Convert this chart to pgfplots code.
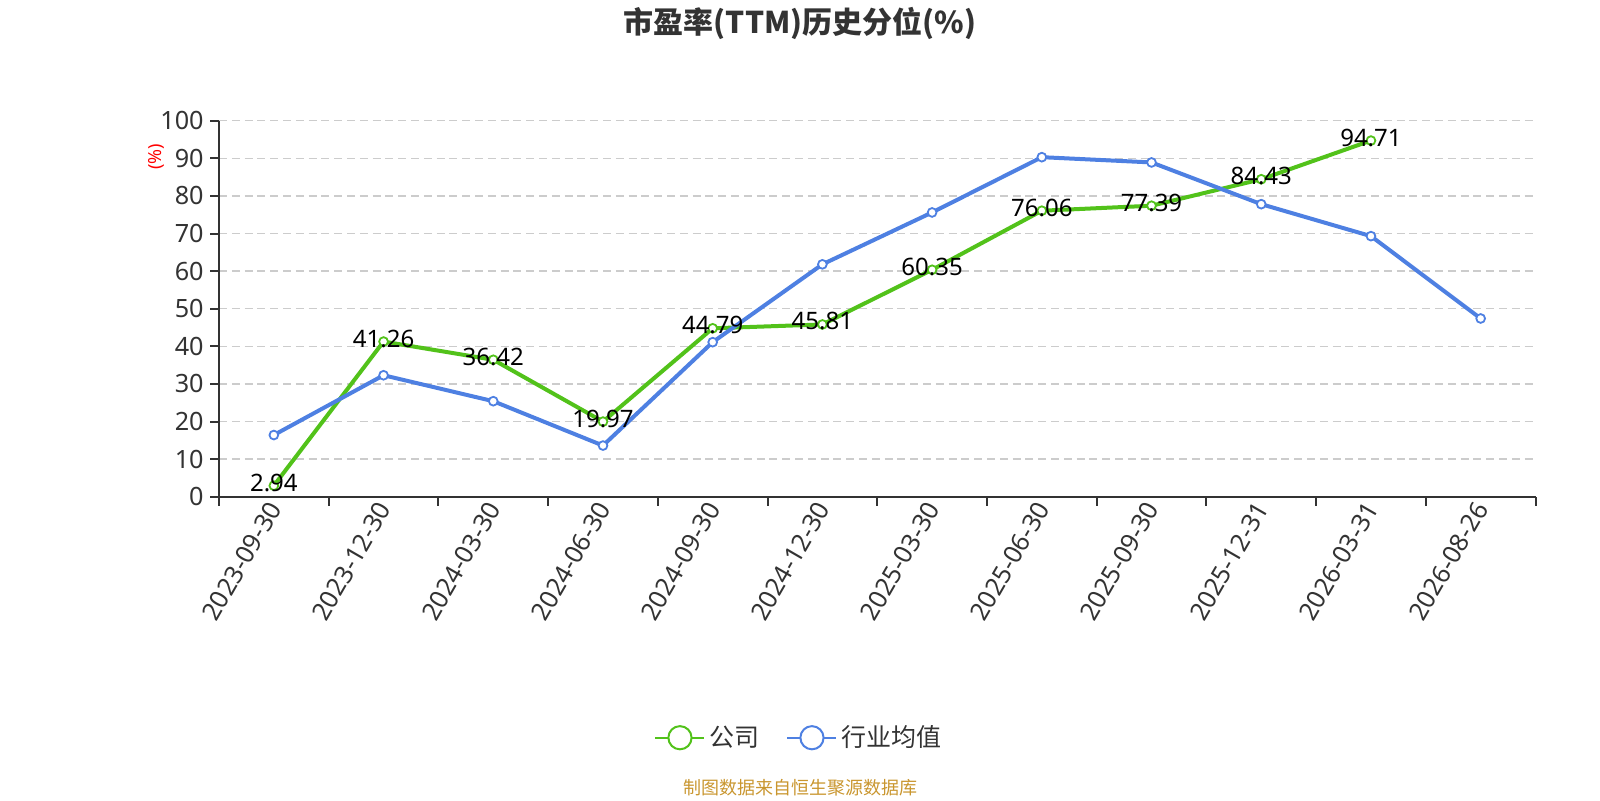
\documentclass[border=0pt]{standalone}
\usepackage{pgfplots}
\pgfplotsset{compat=1.18}
\usepackage{fontspec}
\setmainfont{Noto Sans}
\newfontfamily\cjk{Noto Sans CJK SC}
\definecolor{cgreen}{HTML}{52C21A}
\definecolor{cblue}{HTML}{4E80E2}
\definecolor{ctext}{HTML}{333333}
\definecolor{cgrid}{HTML}{CCCCCC}
\definecolor{csrc}{HTML}{C9962F}
\begin{document}
\begin{tikzpicture}
\path[use as bounding box] (0pt,0pt) rectangle (800pt,400pt);
\begin{axis}[
  at={(109.5pt,151.65pt)}, anchor=south west,
  width=658.25pt, height=188pt, scale only axis,
  xmin=-0.5, xmax=11.5, ymin=0, ymax=100,
  axis x line*=bottom, axis y line*=left,
  axis line style={ctext, line width=1pt, -},
  xtick={0,...,11},
  xticklabels={2023-09-30,2023-12-30,2024-03-30,2024-06-30,2024-09-30,2024-12-30,2025-03-30,2025-06-30,2025-09-30,2025-12-31,2026-03-31,2026-08-26},
  minor xtick={-0.5,0.5,...,11.5},
  major x tick style={draw=none},
  minor x tick style={ctext, line width=1pt},
  ytick={0,10,...,100},
  y tick style={ctext, line width=1pt},
  tick align=outside,
  major tick length=4.5pt, minor tick length=4.5pt,
  ymajorgrids,
  major grid style={cgrid, line width=0.7pt, dash pattern=on 4pt off 2.4pt},
  tick label style={font=\fontsize{12.6}{14}\selectfont, text=ctext},
  xticklabel style={rotate=60, anchor=east, inner sep=2pt, xshift=3pt},
  yticklabel style={inner sep=3pt},
  /pgf/number format/assume math mode=true,
  clip=false,
  legend style={at={(0.4413,-0.641)}, anchor=center, draw=none, fill=none,
    legend columns=2, font=\cjk\fontsize{12.5}{14}\selectfont, text=ctext,
    /tikz/every even column/.append style={column sep=11.5pt}},
  legend cell align=left,
  legend image code/.code={
    \draw[#1, line width=1pt, mark=none] (0pt,0pt) -- (24.5pt,0pt);
    \draw[#1, line width=1pt, fill=white, mark=none] (12.25pt,0pt) circle (5.8pt);
  },
]
\addplot[cgreen, line width=2pt, mark=*, mark size=2.2pt,
  mark options={fill=white, line width=0.9pt},
  nodes near coords={\pgfmathprintnumber[fixed,precision=2,fixed zerofill]{\pgfplotspointmeta}},
  point meta=y,
  every node near coord/.append style={anchor=center, yshift=1.5pt, black, font=\fontsize{12}{14}\selectfont, /pgf/number format/assume math mode=true},
] coordinates {
 (0,2.94) (1,41.26) (2,36.42) (3,19.97) (4,44.79) (5,45.81)
 (6,60.35) (7,76.06) (8,77.39) (9,84.43) (10,94.71)
};
\addlegendentry{公司}
\addplot[cblue, line width=2pt, mark=*, mark size=2.2pt,
  mark options={fill=white, line width=0.9pt}] coordinates {
 (0,16.4) (1,32.3) (2,25.4) (3,13.6) (4,41.1) (5,61.8)
 (6,75.6) (7,90.3) (8,88.9) (9,77.8) (10,69.3) (11,47.4)
};
\addlegendentry{行业均值}
\node[rotate=90, red, font=\fontsize{9}{10}\selectfont] at (axis description cs:-0.0473,0.904) {(\%)};
\end{axis}
\node[font=\cjk\bfseries\fontsize{15}{17}\selectfont, text=ctext] at (400pt,388.5pt) {市盈率(TTM)历史分位(\%)};
\node[font=\cjk\fontsize{9}{10}\selectfont, text=csrc] at (400pt,6pt) {制图数据来自恒生聚源数据库};
\end{tikzpicture}
\end{document}
